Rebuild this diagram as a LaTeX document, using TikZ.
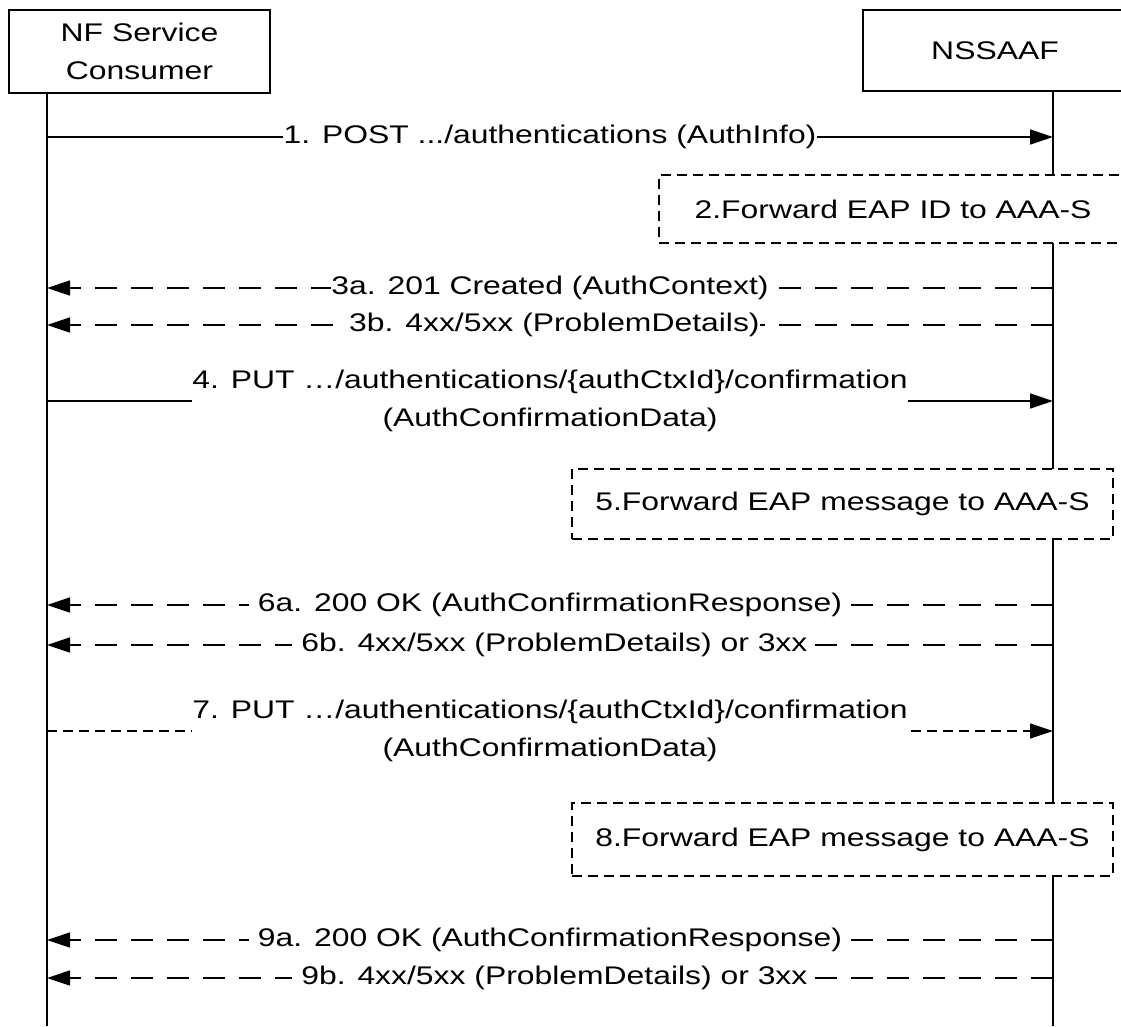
\documentclass[tikz,border=0pt]{standalone}
\usepackage{fontspec}
\setmainfont{Liberation Sans}[FakeStretch=1.25]
\usetikzlibrary{arrows.meta}

\begin{document}
\begin{tikzpicture}[x=1pt, y=-1pt,
    every node/.style={font=\fontsize{25.5}{38}\selectfont},
    entity/.style={draw, line width=1.5pt, align=center, inner sep=0pt},
    procbox/.style={draw, line width=1.5pt, dash pattern=on 10pt off 6pt, fill=white, inner sep=0pt},
    msglabel/.style={fill=white, inner xsep=0.5pt, inner ysep=2pt, align=center},
    lifeline/.style={line width=1.5pt},
    req/.style={line width=1.5pt, -{Triangle[length=23pt, width=15pt]}},
    resp/.style={req, dash pattern=on 22pt off 14pt},
    retry/.style={req, dash pattern=on 10pt off 6pt}]

    \useasboundingbox (0,0) rectangle (1121,1026);
    \clip (0,0) rectangle (1121,1026);

    % Entities and their lifelines
    \node[entity, minimum width=261pt, minimum height=83pt] (nf) at (139.5,51.5) {NF Service\\Consumer};
    \node[entity, minimum width=264pt, minimum height=81pt] (nssaaf) at (995,50.5) {NSSAAF};

    \coordinate (nfend) at (47,1026);
    \coordinate (nsend) at (1053,1026);
    \draw[lifeline] (nf.south -| nfend) -- (nfend);
    \draw[lifeline] (nssaaf.south -| nsend) -- (nsend);

    % Steps on the NSSAAF lifeline
    \coordinate (s1) at (1053,137);
    \coordinate (s3a) at (1053,288);
    \coordinate (s3b) at (1053,325);
    \coordinate (s4) at (1053,401);
    \coordinate (s6a) at (1053,605);
    \coordinate (s6b) at (1053,645);
    \coordinate (s7) at (1053,731);
    \coordinate (s9a) at (1053,940);
    \coordinate (s9b) at (1053,978);

    % Forwarding to AAA-S
    \node[procbox, minimum width=468pt, minimum height=68pt] (fwd2) at (893,209) {2.Forward EAP ID to AAA-S};
    \node[procbox, minimum width=541pt, minimum height=70pt] (fwd5) at (842.5,504) {5.Forward EAP message to AAA-S};
    \node[procbox, minimum width=541pt, minimum height=73pt] (fwd8) at (842.5,839.5) {8.Forward EAP message to AAA-S};

    % Messages
    \draw[req] (nfend |- s1) -- node[msglabel] (m1) {1. POST .../authentications (AuthInfo)} (s1);

    \draw[resp] (s3a) -- node[msglabel] (m3a) {3a. 201 Created (AuthContext)} (nfend |- s3a);
    \draw[resp] (s3b) -- node[msglabel] (m3b) {\ 3b. 4xx/5xx (ProblemDetails)} (nfend |- s3b);

    \draw[req] (nfend |- s4) -- node[msglabel] (m4) {4. PUT …/authentications/\{authCtxId\}/confirmation\\(AuthConfirmationData)} (s4);

    \draw[resp] (s6a) -- node[msglabel] (m6a) {\ 6a. 200 OK (AuthConfirmationResponse)\ } (nfend |- s6a);
    \draw[resp] (s6b) -- node[msglabel] (m6b) {\ 6b. 4xx/5xx (ProblemDetails) or 3xx} (nfend |- s6b);

    \draw[retry] (nfend |- s7) -- node[msglabel] (m7) {7. PUT …/authentications/\{authCtxId\}/confirmation\\(AuthConfirmationData)} (s7);

    \draw[resp] (s9a) -- node[msglabel] (m9a) {\ 9a. 200 OK (AuthConfirmationResponse)\ } (nfend |- s9a);
    \draw[resp] (s9b) -- node[msglabel] (m9b) {\ 9b. 4xx/5xx (ProblemDetails) or 3xx} (nfend |- s9b);
\end{tikzpicture}
\end{document}
